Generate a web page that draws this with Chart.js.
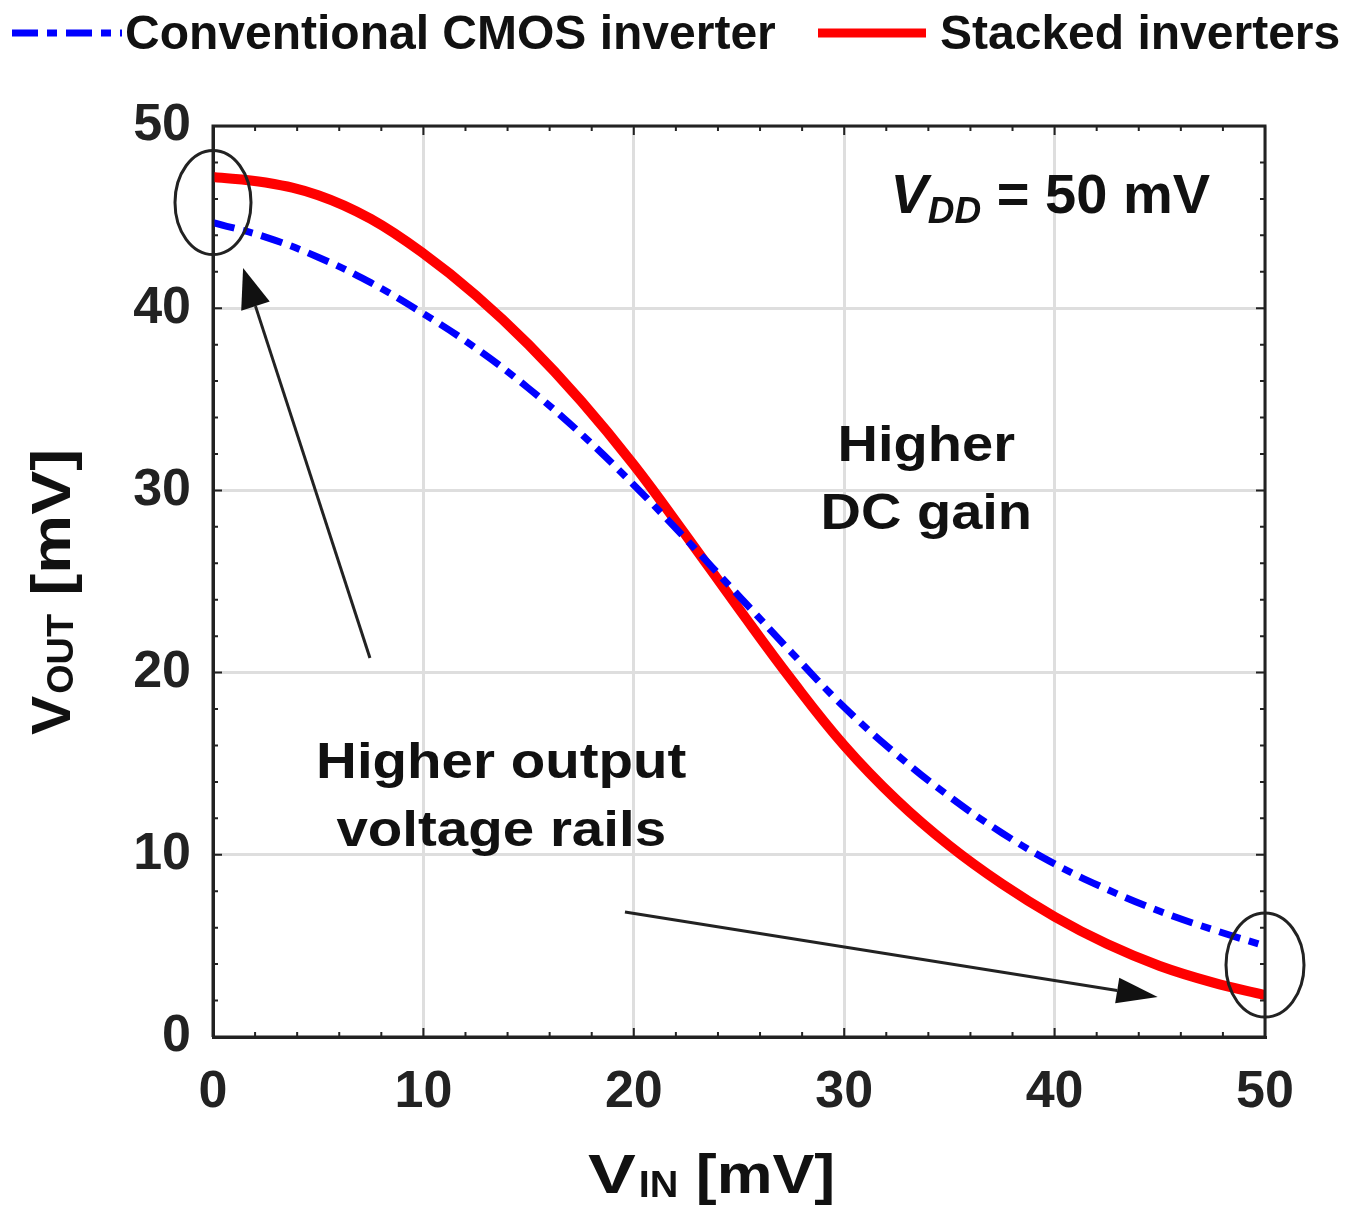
<!DOCTYPE html>
<html>
<head>
<meta charset="utf-8">
<script src="https://cdn.jsdelivr.net/npm/chart.js@4.4.0/dist/chart.umd.min.js"></script>
<style>
  html, body { margin: 0; padding: 0; background: #fff; }
  canvas { display: block; }
</style>
</head>
<body>
<canvas id="chart" width="1355" height="1209"></canvas>
<script>
// input voltage sweep (mV)
const vIn = [0, 2.5, 5, 7.5, 10, 12.5, 15, 17.5, 20, 22.5, 25, 27.5, 30, 32.5, 35, 37.5, 40, 42.5, 45, 47.5, 50];

// output voltage (mV)
const vOutConventional = [44.7, 43.9, 42.8, 41.4, 39.7, 37.8, 35.6, 33.1, 30.3, 27.3, 24.2, 21.1, 18.1, 15.5, 13.2, 11.2, 9.5, 8.1, 6.9, 5.9, 5.0];
const vOutStacked = [47.2, 46.9, 46.2, 44.9, 43.0, 40.7, 38.0, 34.9, 31.4, 27.5, 23.5, 19.6, 16.0, 13.0, 10.5, 8.4, 6.6, 5.1, 3.9, 3.0, 2.3];

const seriesLabels = ['Conventional CMOS inverter', 'Stacked inverters'];
const tickStep = 10;
const minorStep = 2;

const FONT = '"Liberation Sans", Arial, sans-serif';

function toPoints(xs, ys) {
    return xs.map((x, i) => ({ x: x, y: ys[i] }));
}

// draws text stretched horizontally (the original figure uses a wide font)
function wideText(ctx, text, x, y, size, sx, align, style) {
    ctx.save();
    ctx.font = (style || 'bold') + ' ' + size + 'px ' + FONT;
    const w = ctx.measureText(text).width * sx;
    let left = x;
    if (align === 'center') left = x - w / 2;
    if (align === 'right') left = x - w;
    ctx.translate(left, y);
    ctx.scale(sx, 1);
    ctx.textAlign = 'left';
    ctx.textBaseline = 'alphabetic';
    ctx.fillText(text, 0, 0);
    ctx.restore();
    return w;
}

function arrow(ctx, x1, y1, x2, y2, headLen, headHalf) {
    const ang = Math.atan2(y2 - y1, x2 - x1);
    const bx = x2 - headLen * Math.cos(ang);
    const by = y2 - headLen * Math.sin(ang);
    ctx.beginPath();
    ctx.moveTo(x1, y1);
    ctx.lineTo(bx, by);
    ctx.stroke();
    ctx.beginPath();
    ctx.moveTo(x2, y2);
    ctx.lineTo(bx + headHalf * Math.sin(ang), by - headHalf * Math.cos(ang));
    ctx.lineTo(bx - headHalf * Math.sin(ang), by + headHalf * Math.cos(ang));
    ctx.closePath();
    ctx.fill();
}

const decorations = {
    id: 'decorations',
    afterDraw(chart) {
        const ctx = chart.ctx;
        const xs = chart.scales.x;
        const ys = chart.scales.y;
        const area = chart.chartArea;
        const px = v => xs.getPixelForValue(v);
        const py = v => ys.getPixelForValue(v);

        ctx.save();
        ctx.fillStyle = '#111';
        ctx.strokeStyle = '#222';

        // frame
        ctx.lineWidth = 3;
        ctx.beginPath();
        ctx.moveTo(area.left, area.bottom);
        ctx.lineTo(area.left, area.top);
        ctx.lineTo(area.right, area.top);
        ctx.lineTo(area.right, area.bottom);
        ctx.lineTo(area.left, area.bottom);
        ctx.stroke();

        // inward ticks on all four sides
        ctx.lineWidth = 2;
        for (let v = 0; v <= 50; v += minorStep) {
            const len = v % tickStep === 0 ? 9 : 5;
            const x = px(v), y = py(v);
            ctx.beginPath();
            ctx.moveTo(x, area.bottom); ctx.lineTo(x, area.bottom - len);
            ctx.moveTo(x, area.top); ctx.lineTo(x, area.top + len);
            ctx.moveTo(area.left, y); ctx.lineTo(area.left + len, y);
            ctx.moveTo(area.right, y); ctx.lineTo(area.right - len, y);
            ctx.stroke();
        }

        // ellipses around the rails
        ctx.lineWidth = 3;
        ctx.beginPath();
        ctx.ellipse(px(0), py(45.8), 38, 52, 0, 0, Math.PI * 2);
        ctx.stroke();
        ctx.beginPath();
        ctx.ellipse(px(50), py(3.95), 39, 52, 0, 0, Math.PI * 2);
        ctx.stroke();

        // arrows
        ctx.lineWidth = 3;
        arrow(ctx, px(7.46), py(20.8), px(1.43), py(42.2), 40, 15);
        arrow(ctx, px(19.58), py(6.86), px(44.9), py(2.2), 41, 13);

        // annotation text
        ctx.fillStyle = '#111';
        wideText(ctx, 'Higher', px(33.9), py(31.6), 50, 1.12, 'center');
        wideText(ctx, 'DC gain', px(33.9), py(27.9), 50, 1.12, 'center');
        wideText(ctx, 'Higher output', px(13.7), py(14.2), 50, 1.13, 'center');
        wideText(ctx, 'voltage rails', px(13.7), py(10.5), 50, 1.13, 'center');

        // V_DD = 50 mV
        let cx = px(32.2);
        const by = py(45.2);
        cx += wideText(ctx, 'V', cx, by, 56, 1.0, 'left', 'italic bold');
        cx += wideText(ctx, 'DD', cx, by + 10, 37, 1.0, 'left', 'italic bold');
        wideText(ctx, ' = 50 mV', cx, by, 56, 1.0, 'left');

        // x axis title: V_IN [mV]
        let tx = 588;
        const tb = 1193;
        tx += wideText(ctx, 'V', tx, tb, 56, 1.28, 'left');
        tx += wideText(ctx, 'IN', tx + 3, tb + 4, 36, 1.1, 'left') + 3;
        wideText(ctx, ' [mV]', tx, tb, 56, 1.12, 'left');

        // y axis title: V_OUT [mV], rotated
        ctx.save();
        ctx.translate(70, 735);
        ctx.rotate(-Math.PI / 2);
        let ty = 0;
        ty += wideText(ctx, 'V', ty, 0, 56, 1.05, 'left');
        ty += wideText(ctx, 'OUT', ty + 2, 3, 36, 1.05, 'left') + 2;
        wideText(ctx, ' [mV]', ty, 0, 56, 1.18, 'left');
        ctx.restore();

        // legend
        ctx.lineCap = 'butt';
        ctx.strokeStyle = '#0000ff';
        ctx.lineWidth = 7;
        ctx.setLineDash([26, 9, 10, 9]);
        ctx.beginPath();
        ctx.moveTo(12, 33); ctx.lineTo(122, 33);
        ctx.stroke();
        ctx.setLineDash([]);
        ctx.strokeStyle = '#ff0000';
        ctx.lineWidth = 9;
        ctx.beginPath();
        ctx.moveTo(818, 33); ctx.lineTo(926, 33);
        ctx.stroke();
        ctx.fillStyle = '#111';
        ctx.font = 'bold 48px ' + FONT;
        ctx.textAlign = 'left';
        ctx.textBaseline = 'alphabetic';
        ctx.fillText(seriesLabels[0], 125, 49);
        ctx.fillText(seriesLabels[1], 940, 49);

        ctx.restore();
    }
};

const ctx = document.getElementById('chart').getContext('2d');
new Chart(ctx, {
    type: 'line',
    data: {
        datasets: [
            {
                label: seriesLabels[0],
                data: toPoints(vIn, vOutConventional),
                borderColor: '#0000ff',
                borderWidth: 7,
                borderDash: [22, 9, 10, 9],
                pointRadius: 0,
                tension: 0.4,
                fill: false
            },
            {
                label: seriesLabels[1],
                data: toPoints(vIn, vOutStacked),
                borderColor: '#ff0000',
                borderWidth: 10,
                pointRadius: 0,
                tension: 0.4,
                fill: false
            }
        ]
    },
    options: {
        responsive: false,
        animation: false,
        devicePixelRatio: 1,
        layout: { padding: { top: 126, right: 90, left: 0, bottom: 0 } },
        plugins: {
            legend: { display: false },
            tooltip: { enabled: false }
        },
        scales: {
            x: {
                type: 'linear',
                min: 0,
                max: 50,
                ticks: {
                    stepSize: tickStep,
                    padding: 24,
                    color: '#222',
                    font: { family: FONT, size: 52, weight: 'bold' }
                },
                grid: { color: '#dedede', lineWidth: 3, drawTicks: false },
                border: { color: '#222', width: 3 },
                afterFit: s => { s.height = 172; }
            },
            y: {
                min: 0,
                max: 50,
                ticks: {
                    stepSize: tickStep,
                    padding: 22,
                    color: '#222',
                    font: { family: FONT, size: 52, weight: 'bold' }
                },
                grid: { color: '#dedede', lineWidth: 3, drawTicks: false },
                border: { color: '#222', width: 3 },
                afterFit: s => { s.width = 213; }
            }
        }
    },
    plugins: [decorations]
});
</script>
</body>
</html>
